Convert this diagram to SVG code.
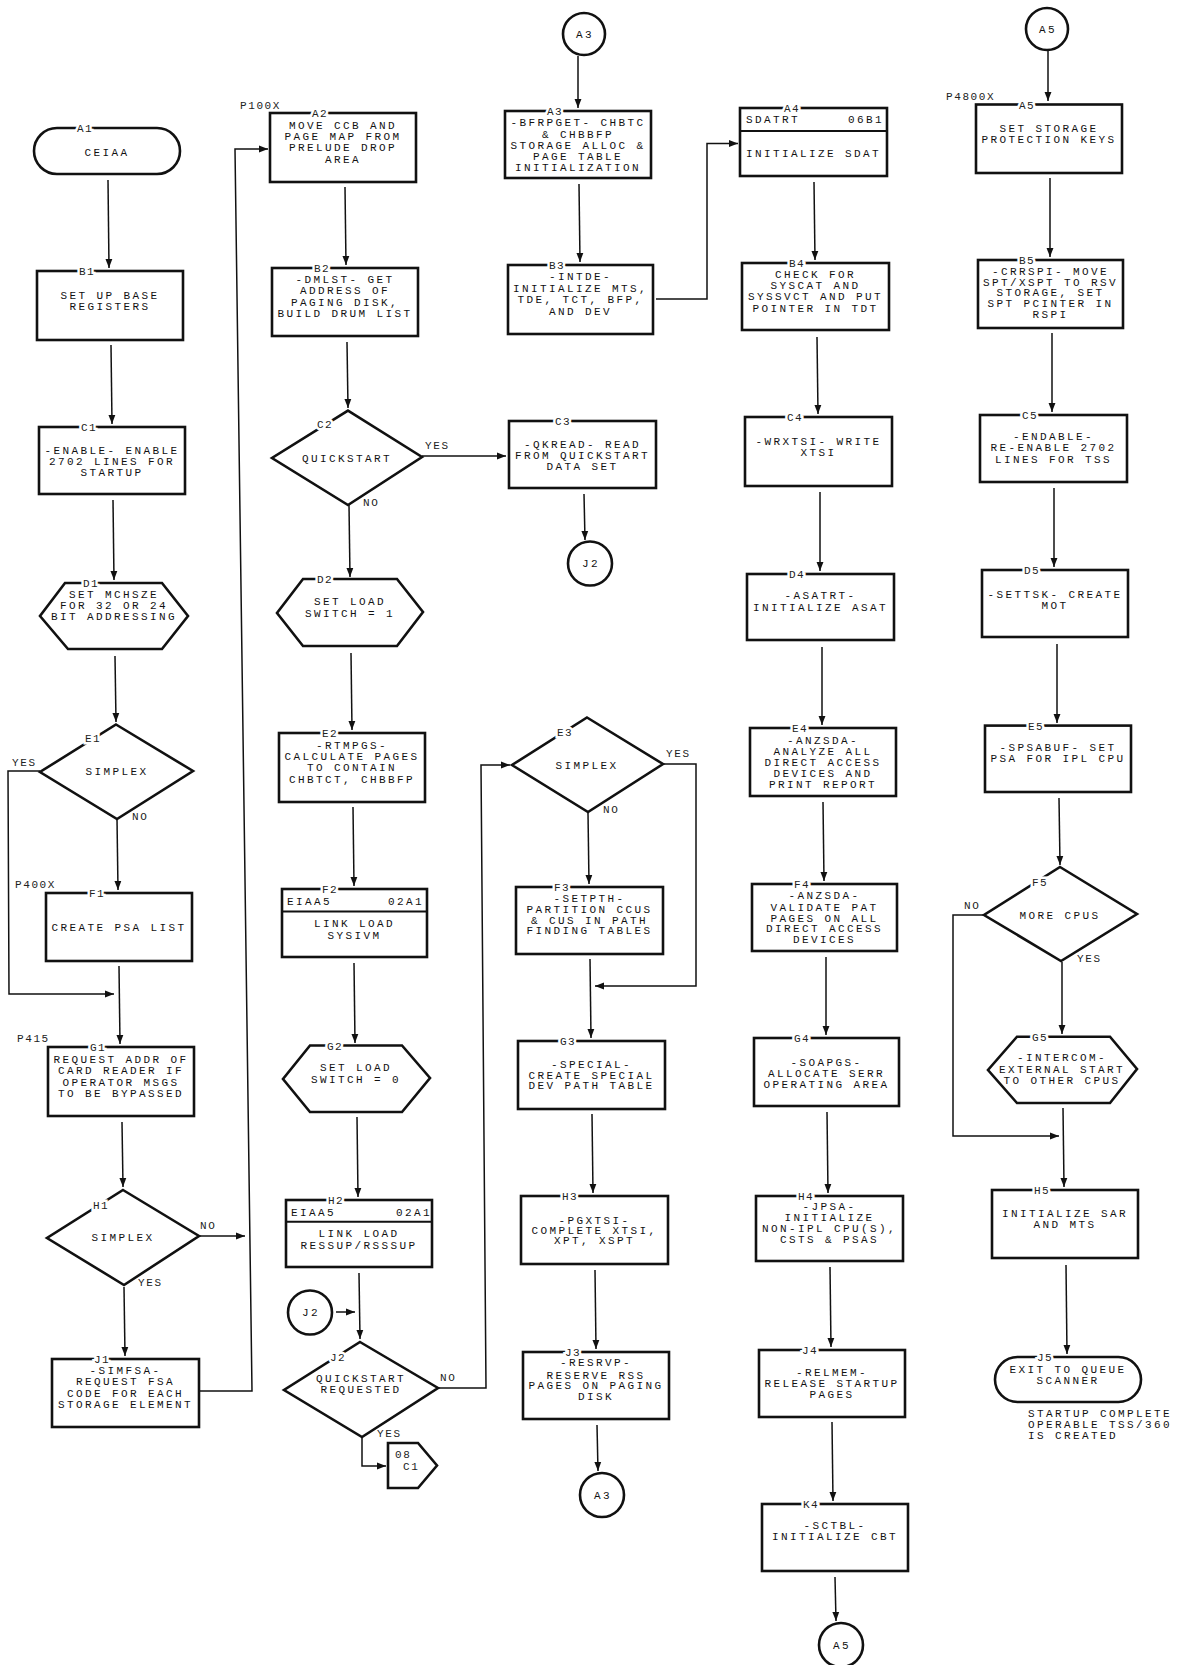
<svg xmlns="http://www.w3.org/2000/svg" width="1178" height="1665" viewBox="0 0 1178 1665">
<style>
.bx{fill:#fff;stroke:#111;stroke-width:2.6}
.dv{fill:none;stroke:#111;stroke-width:2}
.ln{fill:none;stroke:#111;stroke-width:1.5}
.t{font-family:"Liberation Mono","DejaVu Sans Mono",monospace;font-size:11px;letter-spacing:2.4px;text-anchor:middle;fill:#111}
.tl{text-anchor:start}
.tr{text-anchor:end}
.lb{font-family:"Liberation Mono","DejaVu Sans Mono",monospace;font-size:11px;letter-spacing:1.4px;text-anchor:middle;fill:#222;stroke:#fff;stroke-width:5px;paint-order:stroke}
.sm{font-family:"Liberation Mono","DejaVu Sans Mono",monospace;font-size:11px;letter-spacing:1.6px;fill:#222}
</style>
<defs>
<marker id="ah" viewBox="0 0 10 10" refX="10" refY="5" markerWidth="9" markerHeight="9" markerUnits="userSpaceOnUse" orient="auto">
<path d="M0,1.2 L10,5 L0,8.8 z" fill="#111"/>
</marker>
</defs>
<rect width="1178" height="1665" fill="#fff"/>

<g id="connectors" class="ln" marker-end="url(#ah)">
<path d="M108,180 L109,268"/>
<path d="M111,345 L112,424"/>
<path d="M113,500 L114,580"/>
<path d="M115,656 L116,722"/>
<path d="M117,819 L118,890"/>
<path d="M40,771 L8,771 L9,994 L114,994"/>
<path d="M119,966 L120,1044"/>
<path d="M122,1122 L123,1187"/>
<path d="M199,1236 L245,1236"/>
<path d="M124,1287 L125,1356"/>
<path d="M199,1391 L252,1391 L235,149 L268,149"/>
<path d="M345,187 L346,265"/>
<path d="M347,342 L348,408"/>
<path d="M422,456 L506,456"/>
<path d="M349,505 L350,577"/>
<path d="M351,653 L352,730"/>
<path d="M353,807 L354,886"/>
<path d="M354,963 L355,1043"/>
<path d="M357,1117 L358,1197"/>
<path d="M359,1273 L360,1339"/>
<path d="M336,1312 L355,1312"/>
<path d="M362,1437 L362,1466 L386,1466"/>
<path d="M438,1388 L486,1388 L481,765 L510,765"/>
<path d="M578,56 L578,108"/>
<path d="M579,184 L580,262"/>
<path d="M656,299 L707,299 L707,143.5 L738,143.5"/>
<path d="M584,494 L585,540"/>
<path d="M588,813 L589,884"/>
<path d="M663,764 L696,764 L696,986 L595,986"/>
<path d="M590,959 L591,1038"/>
<path d="M592,1114 L593,1193"/>
<path d="M595,1270 L596,1349"/>
<path d="M597,1425 L598,1471"/>
<path d="M814,182 L815,260"/>
<path d="M817,337 L818,414"/>
<path d="M820,492 L820,571"/>
<path d="M822,647 L822,725"/>
<path d="M823,802 L824,881"/>
<path d="M826,957 L826,1035"/>
<path d="M827,1112 L828,1193"/>
<path d="M830,1267 L831,1347"/>
<path d="M832,1422 L833,1501"/>
<path d="M835,1577 L836,1621"/>
<path d="M1048,51 L1048,101"/>
<path d="M1050,178 L1050,257"/>
<path d="M1052,333 L1052,412"/>
<path d="M1054,488 L1054,567"/>
<path d="M1057,644 L1057,723"/>
<path d="M1059,798 L1060,865"/>
<path d="M1062,962 L1062,1034"/>
<path d="M984,915 L953,915 L953,1136 L1059,1136"/>
<path d="M1063,1108 L1064,1187"/>
<path d="M1066,1265 L1067,1354"/>
</g>

<g id="edge-labels" class="sm">
<text x="425" y="449">YES</text>
<text x="363" y="506">NO</text>
<text x="12" y="766">YES</text>
<text x="132" y="820">NO</text>
<text x="200" y="1229">NO</text>
<text x="138" y="1286">YES</text>
<text x="440" y="1381">NO</text>
<text x="377" y="1437">YES</text>
<text x="666" y="757">YES</text>
<text x="603" y="813">NO</text>
<text x="964" y="909">NO</text>
<text x="1077" y="962">YES</text>
<text x="240" y="109">P100X</text>
<text x="15" y="888">P400X</text>
<text x="17" y="1042">P415</text>
<text x="946" y="100">P4800X</text>
</g>

<!-- Column 1 -->
<g id="A1"><rect class="bx" x="34" y="128" width="146" height="46" rx="23"/><text class="lb" x="85" y="132">A1</text><text class="t" x="107" y="155.5">CEIAA</text></g>
<g id="B1"><rect class="bx" x="37" y="271" width="146" height="69"/><text class="lb" x="87" y="275">B1</text><text class="t"><tspan x="110" y="298.5">SET UP BASE</tspan><tspan x="110" y="310">REGISTERS</tspan></text></g>
<g id="C1"><rect class="bx" x="39" y="427" width="146" height="67"/><text class="lb" x="89" y="431">C1</text><text class="t"><tspan x="112" y="453.5">-ENABLE- ENABLE</tspan><tspan x="112" y="464.5">2702 LINES FOR</tspan><tspan x="112" y="476">STARTUP</tspan></text></g>
<g id="D1"><polygon class="bx" points="65,583 162,583 188,616 162,649 68,649 40,616"/><text class="lb" x="91" y="587">D1</text><text class="t"><tspan x="114" y="597.5">SET MCHSZE</tspan><tspan x="114" y="608.5">FOR 32 OR 24</tspan><tspan x="114" y="619.5">BIT ADDRESSING</tspan></text></g>
<g id="E1"><polygon class="bx" points="116,724.5 193,771 117,819 40,772"/><text class="lb" x="93" y="742">E1</text><text class="t" x="117" y="774.5">SIMPLEX</text></g>
<g id="F1"><rect class="bx" x="46" y="893" width="146" height="68"/><text class="lb" x="97" y="897">F1</text><text class="t" x="119" y="930.5">CREATE PSA LIST</text></g>
<g id="G1"><rect class="bx" x="48" y="1047" width="146" height="69"/><text class="lb" x="98" y="1051">G1</text><text class="t"><tspan x="121" y="1063">REQUEST ADDR OF</tspan><tspan x="121" y="1074.2">CARD READER IF</tspan><tspan x="121" y="1085.8">OPERATOR MSGS</tspan><tspan x="121" y="1097">TO BE BYPASSED</tspan></text></g>
<g id="H1"><polygon class="bx" points="123,1190 199,1236 124,1285 47,1238"/><text class="lb" x="101" y="1209">H1</text><text class="t" x="123" y="1240.5">SIMPLEX</text></g>
<g id="J1"><rect class="bx" x="52" y="1359" width="147" height="68"/><text class="lb" x="102" y="1363">J1</text><text class="t"><tspan x="125.5" y="1374.2">-SIMFSA-</tspan><tspan x="125.5" y="1385.2">REQUEST FSA</tspan><tspan x="125.5" y="1396.8">CODE FOR EACH</tspan><tspan x="125.5" y="1407.5">STORAGE ELEMENT</tspan></text></g>

<!-- Column 2 -->
<g id="A2"><rect class="bx" x="270" y="113" width="146" height="69"/><text class="lb" x="320" y="117">A2</text><text class="t"><tspan x="343" y="129.3">MOVE CCB AND</tspan><tspan x="343" y="140.3">PAGE MAP FROM</tspan><tspan x="343" y="151.3">PRELUDE DROP</tspan><tspan x="343" y="162.7">AREA</tspan></text></g>
<g id="B2"><rect class="bx" x="272" y="268" width="146" height="68"/><text class="lb" x="322" y="272">B2</text><text class="t"><tspan x="345" y="283.2">-DMLST- GET</tspan><tspan x="345" y="294.2">ADDRESS OF</tspan><tspan x="345" y="305.5">PAGING DISK,</tspan><tspan x="345" y="317">BUILD DRUM LIST</tspan></text></g>
<g id="C2"><polygon class="bx" points="348,410.6 422,457 348,505 272,458"/><text class="lb" x="325" y="428">C2</text><text class="t" x="347" y="461.5">QUICKSTART</text></g>
<g id="D2"><polygon class="bx" points="303,579 397,579 423,612 397,646 303,646 277,613"/><text class="lb" x="325" y="583">D2</text><text class="t"><tspan x="350" y="605.2">SET LOAD</tspan><tspan x="350" y="616.5">SWITCH = 1</tspan></text></g>
<g id="E2"><rect class="bx" x="279" y="733" width="146" height="69"/><text class="lb" x="330" y="737">E2</text><text class="t"><tspan x="352" y="748.5">-RTMPGS-</tspan><tspan x="352" y="759.5">CALCULATE PAGES</tspan><tspan x="352" y="771.2">TO CONTAIN</tspan><tspan x="352" y="782.5">CHBTCT, CHBBFP</tspan></text></g>
<g id="F2"><rect class="bx" x="282" y="889" width="145" height="68"/><path class="dv" d="M282,911.5 H427"/><text class="lb" x="330" y="893">F2</text><text class="t tl" x="287" y="905.1">EIAA5</text><text class="t tr" x="424" y="905.1">02A1</text><text class="t"><tspan x="354.5" y="926.9">LINK LOAD</tspan><tspan x="354.5" y="938.5">SYSIVM</tspan></text></g>
<g id="G2"><polygon class="bx" points="310,1045.5 402,1045.5 430,1078 402,1112 310,1112 283,1079"/><text class="lb" x="335" y="1049.5">G2</text><text class="t"><tspan x="356" y="1071">SET LOAD</tspan><tspan x="356" y="1082.5">SWITCH = 0</tspan></text></g>
<g id="H2"><rect class="bx" x="286" y="1200" width="146" height="67"/><path class="dv" d="M286,1221.7 H432"/><text class="lb" x="336" y="1204">H2</text><text class="t tl" x="291" y="1215.5">EIAA5</text><text class="t tr" x="432" y="1215.5">02A1</text><text class="t"><tspan x="359" y="1236.5">LINK LOAD</tspan><tspan x="359" y="1248.5">RESSUP/RSSSUP</tspan></text></g>
<g id="J2-in"><circle class="bx" cx="310" cy="1312.5" r="22"/><text class="t" x="311" y="1316">J2</text></g>
<g id="J2"><polygon class="bx" points="360,1342 438,1388 362,1437 284,1390"/><text class="lb" x="338" y="1361">J2</text><text class="t"><tspan x="361" y="1381.5">QUICKSTART</tspan><tspan x="361" y="1392.5">REQUESTED</tspan></text></g>
<g id="P08C1"><polygon class="bx" points="388,1443 418,1443 437,1465.5 418,1488 388,1488"/><text class="sm" x="395" y="1458">08</text><text class="sm" x="403" y="1469.5">C1</text></g>

<!-- Column 3 -->
<g id="A3-top"><circle class="bx" cx="584" cy="34" r="21"/><text class="t" x="585" y="37.5">A3</text></g>
<g id="A3"><rect class="bx" x="505" y="111" width="146" height="67"/><text class="lb" x="555" y="115">A3</text><text class="t"><tspan x="578" y="126">-BFRPGET- CHBTC</tspan><tspan x="578" y="137.5">&amp; CHBBFP</tspan><tspan x="578" y="148.9">STORAGE ALLOC &amp;</tspan><tspan x="578" y="159.5">PAGE TABLE</tspan><tspan x="578" y="170.5">INITIALIZATION</tspan></text></g>
<g id="B3"><rect class="bx" x="508" y="265" width="145" height="69"/><text class="lb" x="557" y="269">B3</text><text class="t"><tspan x="580.5" y="279.5">-INTDE-</tspan><tspan x="580.5" y="291.5">INITIALIZE MTS,</tspan><tspan x="580.5" y="303">TDE, TCT, BFP,</tspan><tspan x="580.5" y="314.5">AND DEV</tspan></text></g>
<g id="C3"><rect class="bx" x="509" y="421" width="147" height="67"/><text class="lb" x="563" y="425">C3</text><text class="t"><tspan x="582.5" y="447.5">-QKREAD- READ</tspan><tspan x="582.5" y="458.5">FROM QUICKSTART</tspan><tspan x="582.5" y="469.5">DATA SET</tspan></text></g>
<g id="J2-out"><circle class="bx" cx="590" cy="563.5" r="22"/><text class="t" x="591" y="567">J2</text></g>
<g id="E3"><polygon class="bx" points="587,717.5 663,764 588,812 512,765"/><text class="lb" x="565" y="735.5">E3</text><text class="t" x="587" y="768.5">SIMPLEX</text></g>
<g id="F3"><rect class="bx" x="516" y="887" width="147" height="67"/><text class="lb" x="562" y="891">F3</text><text class="t"><tspan x="589.5" y="901.5">-SETPTH-</tspan><tspan x="589.5" y="912.5">PARTITION CCUS</tspan><tspan x="589.5" y="923.5">&amp; CUS IN PATH</tspan><tspan x="589.5" y="934.3">FINDING TABLES</tspan></text></g>
<g id="G3"><rect class="bx" x="518" y="1041" width="147" height="68"/><text class="lb" x="568" y="1045">G3</text><text class="t"><tspan x="591.5" y="1068.2">-SPECIAL-</tspan><tspan x="591.5" y="1078.5">CREATE SPECIAL</tspan><tspan x="591.5" y="1089.3">DEV PATH TABLE</tspan></text></g>
<g id="H3"><rect class="bx" x="521" y="1196" width="147" height="68"/><text class="lb" x="570" y="1200">H3</text><text class="t"><tspan x="594.5" y="1223.5">-PGXTSI-</tspan><tspan x="594.5" y="1234.2">COMPLETE XTSI,</tspan><tspan x="594.5" y="1244.2">XPT, XSPT</tspan></text></g>
<g id="J3"><rect class="bx" x="523" y="1352" width="146" height="67"/><text class="lb" x="573" y="1356">J3</text><text class="t"><tspan x="596" y="1366.2">-RESRVP-</tspan><tspan x="596" y="1378.5">RESERVE RSS</tspan><tspan x="596" y="1389.2">PAGES ON PAGING</tspan><tspan x="596" y="1400.2">DISK</tspan></text></g>
<g id="A3-bottom"><circle class="bx" cx="602" cy="1495" r="22"/><text class="t" x="603" y="1498.5">A3</text></g>

<!-- Column 4 -->
<g id="A4"><rect class="bx" x="740" y="108" width="147" height="68"/><path class="dv" d="M740,131 H887"/><text class="lb" x="792" y="112">A4</text><text class="t tl" x="746" y="122.9">SDATRT</text><text class="t tr" x="884" y="122.9">06B1</text><text class="t" x="813.5" y="156.5">INITIALIZE SDAT</text></g>
<g id="B4"><rect class="bx" x="742" y="263" width="147" height="67"/><text class="lb" x="797" y="267">B4</text><text class="t"><tspan x="815.5" y="278.3">CHECK FOR</tspan><tspan x="815.5" y="288.5">SYSCAT AND</tspan><tspan x="815.5" y="300.1">SYSSVCT AND PUT</tspan><tspan x="815.5" y="311.5">POINTER IN TDT</tspan></text></g>
<g id="C4"><rect class="bx" x="745" y="417" width="147" height="69"/><text class="lb" x="795" y="421">C4</text><text class="t"><tspan x="818.5" y="444.5">-WRXTSI- WRITE</tspan><tspan x="818.5" y="456">XTSI</tspan></text></g>
<g id="D4"><rect class="bx" x="747" y="574" width="147" height="66"/><text class="lb" x="797" y="578">D4</text><text class="t"><tspan x="820.5" y="598.5">-ASATRT-</tspan><tspan x="820.5" y="610.5">INITIALIZE ASAT</tspan></text></g>
<g id="E4"><rect class="bx" x="750" y="728" width="146" height="68"/><text class="lb" x="800" y="732">E4</text><text class="t"><tspan x="823" y="743.5">-ANZSDA-</tspan><tspan x="823" y="755">ANALYZE ALL</tspan><tspan x="823" y="765.5">DIRECT ACCESS</tspan><tspan x="823" y="776.5">DEVICES AND</tspan><tspan x="823" y="787.5">PRINT REPORT</tspan></text></g>
<g id="F4"><rect class="bx" x="752" y="884" width="145" height="67"/><text class="lb" x="802" y="888">F4</text><text class="t"><tspan x="824.5" y="899.2">-ANZSDA-</tspan><tspan x="824.5" y="910.5">VALIDATE PAT</tspan><tspan x="824.5" y="921.5">PAGES ON ALL</tspan><tspan x="824.5" y="932.1">DIRECT ACCESS</tspan><tspan x="824.5" y="943">DEVICES</tspan></text></g>
<g id="G4"><rect class="bx" x="754" y="1038" width="145" height="68"/><text class="lb" x="802" y="1042">G4</text><text class="t"><tspan x="826.5" y="1065.5">-SOAPGS-</tspan><tspan x="826.5" y="1077">ALLOCATE SERR</tspan><tspan x="826.5" y="1087.5">OPERATING AREA</tspan></text></g>
<g id="H4"><rect class="bx" x="756" y="1196" width="147" height="65"/><text class="lb" x="806" y="1200">H4</text><text class="t"><tspan x="829.5" y="1210">-JPSA-</tspan><tspan x="829.5" y="1221.2">INITIALIZE</tspan><tspan x="829.5" y="1232.3">NON-IPL CPU(S),</tspan><tspan x="829.5" y="1242.5">CSTS &amp; PSAS</tspan></text></g>
<g id="J4"><rect class="bx" x="759" y="1350" width="146" height="67"/><text class="lb" x="810" y="1354">J4</text><text class="t"><tspan x="832" y="1375.5">-RELMEM-</tspan><tspan x="832" y="1386.5">RELEASE STARTUP</tspan><tspan x="832" y="1397.5">PAGES</tspan></text></g>
<g id="K4"><rect class="bx" x="762" y="1504" width="146" height="67"/><text class="lb" x="811" y="1508">K4</text><text class="t"><tspan x="835" y="1529.2">-SCTBL-</tspan><tspan x="835" y="1540.2">INITIALIZE CBT</tspan></text></g>
<g id="A5-bottom"><circle class="bx" cx="841" cy="1645" r="22"/><text class="t" x="842" y="1648.5">A5</text></g>

<!-- Column 5 -->
<g id="A5-top"><circle class="bx" cx="1047" cy="29" r="21"/><text class="t" x="1048" y="32.5">A5</text></g>
<g id="A5"><rect class="bx" x="976" y="104.5" width="146" height="68.5"/><text class="lb" x="1027" y="108.5">A5</text><text class="t"><tspan x="1049" y="131.5">SET STORAGE</tspan><tspan x="1049" y="143.2">PROTECTION KEYS</tspan></text></g>
<g id="B5"><rect class="bx" x="978" y="260" width="145" height="68"/><text class="lb" x="1027" y="264">B5</text><text class="t"><tspan x="1050.5" y="275.2">-CRRSPI- MOVE</tspan><tspan x="1050.5" y="285.5">SPT/XSPT TO RSV</tspan><tspan x="1050.5" y="296.3">STORAGE, SET</tspan><tspan x="1050.5" y="307">SPT PCINTER IN</tspan><tspan x="1050.5" y="318.1">RSPI</tspan></text></g>
<g id="C5"><rect class="bx" x="980" y="415" width="147" height="67"/><text class="lb" x="1030" y="419">C5</text><text class="t"><tspan x="1053.5" y="439.5">-ENDABLE-</tspan><tspan x="1053.5" y="451.3">RE-ENABLE 2702</tspan><tspan x="1053.5" y="462.5">LINES FOR TSS</tspan></text></g>
<g id="D5"><rect class="bx" x="982" y="570" width="146" height="67"/><text class="lb" x="1032" y="574">D5</text><text class="t"><tspan x="1055" y="597.5">-SETTSK- CREATE</tspan><tspan x="1055" y="608.5">MOT</tspan></text></g>
<g id="E5"><rect class="bx" x="985" y="725.6" width="146" height="66.4"/><text class="lb" x="1036" y="729.6">E5</text><text class="t"><tspan x="1058" y="750.5">-SPSABUF- SET</tspan><tspan x="1058" y="762.1">PSA FOR IPL CPU</tspan></text></g>
<g id="F5"><polygon class="bx" points="1060,867 1137,914 1061,961 984,915"/><text class="lb" x="1040" y="886">F5</text><text class="t" x="1060" y="918.5">MORE CPUS</text></g>
<g id="G5"><polygon class="bx" points="1017,1036.7 1110,1036.7 1137,1069 1110,1103 1017,1103 988,1070"/><text class="lb" x="1040" y="1040.7">G5</text><text class="t"><tspan x="1062" y="1061.2">-INTERCOM-</tspan><tspan x="1062" y="1072.5">EXTERNAL START</tspan><tspan x="1062" y="1084">TO OTHER CPUS</tspan></text></g>
<g id="H5"><rect class="bx" x="992" y="1190" width="146" height="68"/><text class="lb" x="1042" y="1194">H5</text><text class="t"><tspan x="1065" y="1216.5">INITIALIZE SAR</tspan><tspan x="1065" y="1227.5">AND MTS</tspan></text></g>
<g id="J5"><rect class="bx" x="995" y="1357" width="146" height="45" rx="22.5"/><text class="lb" x="1045" y="1361">J5</text><text class="t"><tspan x="1068" y="1372.5">EXIT TO QUEUE</tspan><tspan x="1068" y="1383.5">SCANNER</tspan></text></g>
<g id="note"><text class="t tl"><tspan x="1028" y="1416.5">STARTUP COMPLETE</tspan><tspan x="1028" y="1427.5">OPERABLE TSS/360</tspan><tspan x="1028" y="1438.5">IS CREATED</tspan></text></g>
</svg>
